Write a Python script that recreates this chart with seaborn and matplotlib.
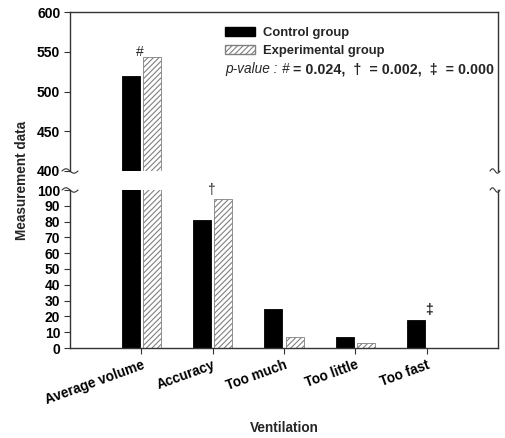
import numpy as np
import pandas as pd
import matplotlib
matplotlib.use("Agg")
import matplotlib.pyplot as plt
import seaborn as sns
from matplotlib.patches import Patch

categories = ["Average volume", "Accuracy", "Too much", "Too little", "Too fast"]
groups = ["Control group", "Experimental group"]
control_values = [520, 81, 25, 7, 18]
experimental_values = [543, 94, 7, 3, 0]
sig_marks = ["#", "\u2020", "", "", "\u2021"]
sig_y = [550, 100, None, None, 24]
top_ticks = [400, 450, 500, 550, 600]
bottom_ticks = list(range(0, 101, 10))

sns.set_style("ticks")
plt.rcParams["font.family"] = ["Liberation Sans", "DejaVu Sans"]
plt.rcParams["hatch.linewidth"] = 0.8

df = pd.DataFrame({
    "Ventilation": categories * 2,
    "value": control_values + experimental_values,
    "group": [groups[0]] * len(categories) + [groups[1]] * len(categories),
})

fig = plt.figure(figsize=(5.05, 4.38), dpi=100)
L, R = 70 / 505, 498 / 505
ax_top = fig.add_axes([L, 1 - 171 / 438, R - L, (171 - 12) / 438])
ax_bot = fig.add_axes([L, 1 - 348 / 438, R - L, (348 - 190) / 438])

for ax in (ax_top, ax_bot):
    sns.barplot(data=df, x="Ventilation", y="value", hue="group",
                order=categories, hue_order=groups,
                palette=["black", "white"], width=0.6, gap=0.15,
                ax=ax, legend=False, saturation=1, errorbar=None)
    for p in ax.containers[0]:
        p.set_edgecolor("black")
        p.set_linewidth(0.6)
    for p in ax.containers[1]:
        p.set_hatch("//////")
        p.set_edgecolor("#808080")
        p.set_linewidth(0.6)
    ax.set_xlim(-1, 5)
    ax.set_xlabel("")
    ax.set_ylabel("")
    for s in ax.spines.values():
        s.set_linewidth(1.0)
        s.set_color("#333333")
    ax.tick_params(axis="both", direction="out", length=4, width=0.8, colors="#333333",
                   labelcolor="black", labelsize=10, pad=3)

ax_top.set_ylim(400, 600)
ax_top.set_yticks(top_ticks)
ax_top.set_yticklabels([str(t) for t in top_ticks], fontweight="bold", fontsize=10)
ax_top.spines["bottom"].set_visible(False)
ax_top.tick_params(axis="x", bottom=False, labelbottom=False)

ax_bot.set_ylim(0, 100)
ax_bot.set_yticks(bottom_ticks)
ax_bot.set_yticklabels([str(t) for t in bottom_ticks], fontweight="bold", fontsize=10)
ax_bot.spines["top"].set_visible(False)
ax_bot.set_xticks(range(len(categories)))
ax_bot.set_xticklabels(categories, rotation=20, ha="right", rotation_mode="anchor",
                       fontweight="bold", fontsize=9.8)

# break marks
def squiggle(ax, xc, yc, x0, x1):
    t = np.linspace(0, 1, 40)
    xs = x0 + (x1 - x0) * t
    ys = 2.2 * np.sin(2 * np.pi * t)
    bb = ax.get_position()
    W = bb.width * 505
    H = bb.height * 438
    ax.plot(xc + xs / W, yc + ys / H, color="#333333", lw=0.8,
            transform=ax.transAxes, clip_on=False)

squiggle(ax_top, 0, 0, -8, 8)
squiggle(ax_bot, 0, 1, -8, 8)
squiggle(ax_top, 1, 0, -8, 2)
squiggle(ax_bot, 1, 1, -8, 2)

# significance marks
for i, (m, y) in enumerate(zip(sig_marks, sig_y)):
    if not m:
        continue
    ax = ax_top if y >= 400 else ax_bot
    ax.text(i + (0.03 if i == 4 else -0.02), y, m, ha="center", va="center",
            fontsize=10, fontweight="bold" if i == 4 else "normal", clip_on=False)

# legend
handles = [Patch(facecolor="black", edgecolor="black"),
           Patch(facecolor="white", edgecolor="#808080", hatch="//////")]
leg = ax_top.legend(handles, groups, loc="upper left", bbox_to_anchor=(0.362, 0.905),
                    frameon=False, handlelength=2.3, handleheight=0.6,
                    handletextpad=0.6, labelspacing=0.45, borderaxespad=0, borderpad=0,
                    prop={"weight": "bold", "size": 9.4})
ylin = 1 - 69 / 438
fig.text(225 / 505, ylin, "p-value :", style="italic", fontsize=9.8, va="center", ha="left")
fig.text(286 / 505, ylin, "#", style="italic", fontsize=9.8, va="center", ha="center")
fig.text(494 / 505, ylin, "= 0.024,  \u2020  = 0.002,  \u2021  = 0.000",
         fontweight="bold", fontsize=10.3, va="center", ha="right")

fig.text(22 / 505, 1 - 180 / 438, "Measurement data", rotation=90, ha="center",
         va="center", fontweight="bold", fontsize=9.8)
fig.text(284 / 505, 1 - 428 / 438, "Ventilation", ha="center", va="center",
         fontweight="bold", fontsize=9.8)

fig.savefig("out.png", dpi=100)
